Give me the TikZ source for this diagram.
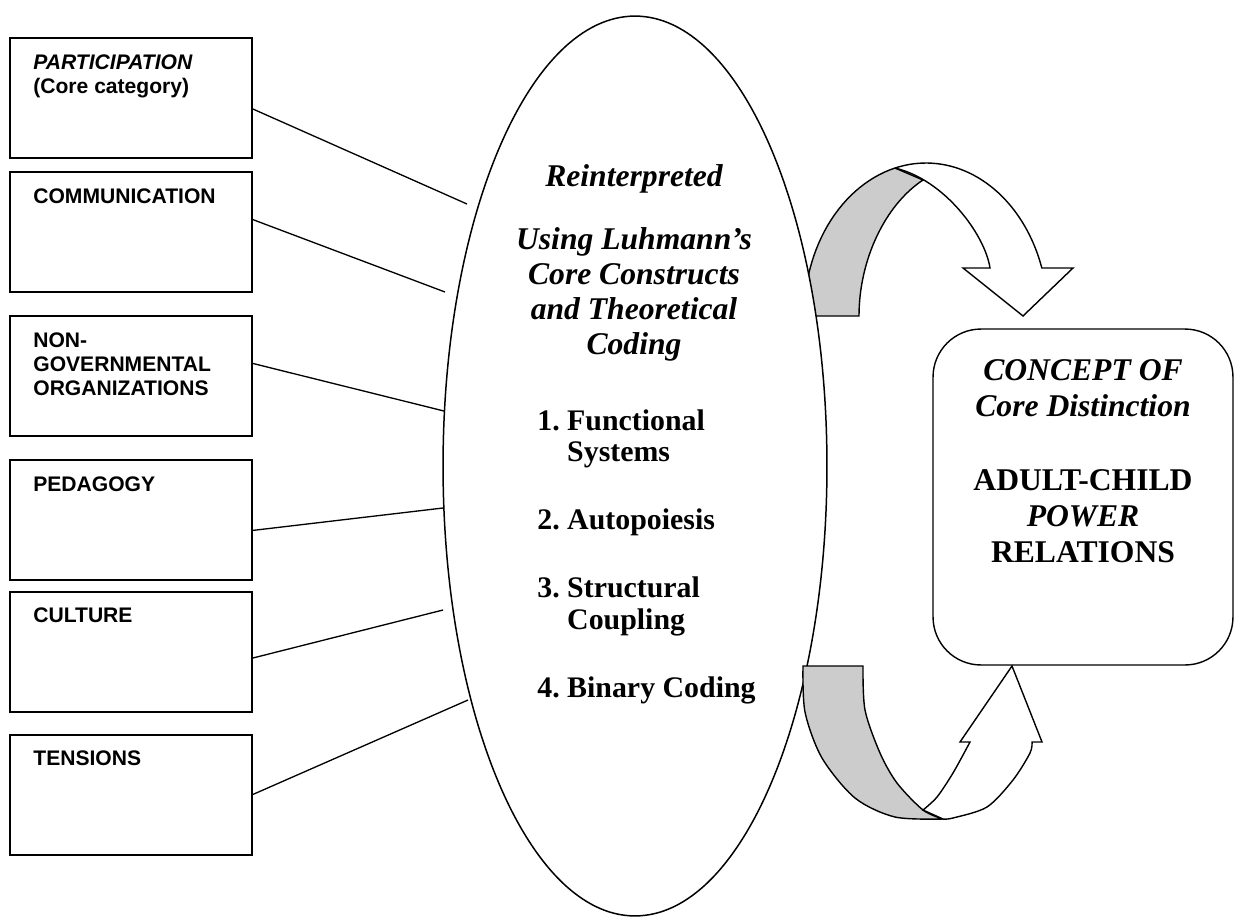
\documentclass[tikz,border=0pt]{standalone}
\usepackage{fontspec}
\setmainfont{Liberation Serif}
\newfontfamily\arialfont{Liberation Sans}
\usepackage{tikz}
\usetikzlibrary{positioning, shapes.geometric}
\definecolor{ribbon}{HTML}{CCCCCC}

\begin{document}
\begin{tikzpicture}[x=0.02cm, y=-0.02cm, node distance=10pt,
  cat/.style={draw, line width=1.1pt, minimum width=4.84cm, minimum height=2.4cm, inner sep=0, outer sep=0},
  cattext/.style={inner sep=0, align=left, font=\arialfont\bfseries\fontsize{12}{13.7}\selectfont},
  link/.style={line width=0.75pt},
  coretext/.style={inner sep=0, align=center, font=\bfseries\itshape\fontsize{18}{19.9}\selectfont},
  listtext/.style={inner sep=0, font=\bfseries\fontsize{17}{18.2}\selectfont},
  turn/.style={line width=0.8pt}]
  \useasboundingbox (0,0) rectangle (1234,917);

  % upper turning arrow (behind the ellipse)
  \filldraw[turn, fill=ribbon] plot[domain=180:104.7, samples=30] ({926+122*cos(\x)},{316-153*sin(\x)})
    -- (923,180) .. controls (885,205) and (859,260) .. (859,316) -- cycle;
  \filldraw[turn, fill=white] plot[domain=104.7:18.3, samples=40] ({926+122*cos(\x)},{316-153*sin(\x)})
    -- (1073,268) -- (1023,316) -- (963,268) -- (990,268)
    .. controls (985,235) and (945,180) .. (895,168) -- cycle;

  \node[draw, ellipse, fill=white, line width=0.85pt, minimum width=7.68cm, minimum height=18cm, inner sep=0] (core) at (635,466) {};

  % lower turning arrow
  \filldraw[turn, fill=ribbon] plot[smooth] coordinates {(803,666) (805,712) (822,758) (855,798) (895,817) (943,819)}
    -- plot[smooth] coordinates {(943,819) (923,810) (897,783) (880,753) (865,710) (863,666)} -- cycle;
  \filldraw[turn, fill=white] plot[smooth] coordinates {(943,819) (953,818) (987,807) (1013,780) (1030,753) (1032,742)}
    -- (1042,742) -- (1012,666) -- (960,742) -- (970,742)
    -- plot[smooth] coordinates {(970,742) (953,773) (937,797) (923,810)} -- cycle;

  % categories
  \node[cat] (b1) at (131,98) {};
  \node[cat, below=0.28cm of b1] (b2) {};
  \node[cat, below=0.48cm of b2] (b3) {};
  \node[cat, below=0.48cm of b3] (b4) {};
  \node[cat, below=0.24cm of b4] (b5) {};
  \node[cat, below=0.46cm of b5] (b6) {};

  \node[cattext, below right=0.32cm and 0.46cm of b1.north west] (t1) {\textit{PARTICIPATION}\\(Core category)};
  \node[cattext, below right=0.32cm and 0.46cm of b2.north west] (t2) {COMMUNICATION};
  \node[cattext, below right=0.32cm and 0.46cm of b3.north west] (t3) {NON-\\GOVERNMENTAL\\ORGANIZATIONS};
  \node[cattext, below right=0.32cm and 0.46cm of b4.north west] (t4) {PEDAGOGY};
  \node[cattext, below right=0.32cm and 0.46cm of b5.north west] (t5) {CULTURE};
  \node[cattext, below right=0.32cm and 0.46cm of b6.north west] (t6) {TENSIONS};

  \coordinate (e1) at (467,204);
  \coordinate (e2) at (445,292);
  \coordinate (e3) at (444,411);
  \coordinate (e4) at (443,508);
  \coordinate (e5) at (443,610);
  \coordinate (e6) at (468,700);

  \draw[link] (b1.-5) -- (e1);
  \draw[link] (b2.6) -- (e2);
  \draw[link] (b3.6) -- (e3);
  \draw[link] (b4.-5) -- (e4);
  \draw[link] (b5.-3) -- (e5);
  \draw[link] (b6.0) -- (e6);

  % text in the ellipse
  \node[coretext, anchor=north] (reint) at (634,164) {Reinterpreted\\[0.56cm]Using Luhmann’s\\Core Constructs\\and Theoretical\\Coding};
  \node[listtext, anchor=base west] (list) at (537,430) {\begin{tabular}[t]{@{}l@{\ }l@{}}
    1.&Functional\\&Systems\\[20.5pt]
    2.&Autopoiesis\\[20.5pt]
    3.&Structural\\&Coupling\\[20.5pt]
    4.&Binary Coding
  \end{tabular}};

  % core distinction
  \node[draw, line width=0.8pt, rounded corners=0.96cm, minimum width=6cm, minimum height=6.72cm] (concept) at (1083,497) {};
  \node[coretext, font=\bfseries\fontsize{18}{20.5}\selectfont, below=0.62cm of concept.north] (ctext)
    {\textit{CONCEPT OF}\\\textit{Core Distinction}\\[21.6pt]ADULT-CHILD\\\textit{POWER}\\RELATIONS};
\end{tikzpicture}
\end{document}
